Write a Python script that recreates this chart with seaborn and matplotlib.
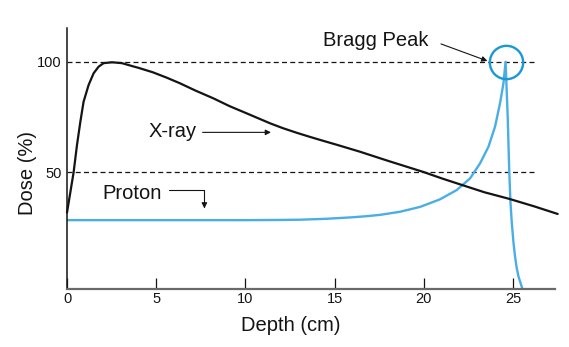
import matplotlib
matplotlib.use("Agg")
import matplotlib.pyplot as plt
import seaborn as sns
import numpy as np
import pandas as pd

# ---- data ----
xray_depth = [0, 0.37, 0.56, 0.75, 0.93, 1.21, 1.49, 1.77, 2.05, 2.52, 3.08, 3.64,
              4.0, 4.8, 5.6, 6.33, 7.2, 8.2, 9.1, 10.07, 11.38, 12.1, 12.88, 13.6,
              14.18, 15.2, 16.4, 18.0, 19.97, 21.0, 22.1, 23.4, 24.8, 26.2, 27.5]
xray_dose = [31.8, 50.0, 62.4, 73.0, 82.0, 89.5, 94.8, 97.8, 99.4, 99.8, 99.4, 98.1,
             97.3, 95.3, 92.8, 90.3, 87.0, 83.5, 80.0, 76.7, 72.2, 70.0, 67.9, 66.1,
             64.7, 62.3, 59.4, 55.2, 50.2, 47.3, 44.4, 41.0, 38.0, 34.6, 31.2]

proton_depth = [0, 5, 10, 12, 13.06, 14.5, 16.0, 16.8, 17.55, 18.67, 19.79, 20.9,
                21.84, 22.59, 23.15, 23.62, 23.99, 24.27, 24.46, 24.58,
                24.7, 24.78, 24.85, 24.93, 25.02, 25.11, 25.2, 25.3, 25.52]
proton_dose = [28.4, 28.4, 28.4, 28.5, 28.6, 29.0, 29.7, 30.2, 30.8, 32.2, 34.4, 37.8,
               42.0, 47.3, 54.1, 61.6, 70.7, 81.3, 90.3, 100.0,
               75.0, 52.0, 37.0, 27.0, 18.5, 12.0, 7.0, 3.0, -2.6]

x_ticks = [0, 5, 10, 15, 20, 25]
y_ticks = [50, 100]
ref_levels = [100, 50]

BLACK = "#141414"
BLUE = "#4aaee6"
CIRCLE = "#1a98d6"

sns.set_style("white")
plt.rcParams["font.family"] = ["Liberation Sans", "DejaVu Sans"]

fig = plt.figure(figsize=(5.69, 3.47), dpi=100)
ax = fig.add_axes([67 / 569, 1 - 288.7 / 347, (555 - 67) / 569, (288.7 - 28) / 347])

xray_df = pd.DataFrame({"depth": xray_depth, "dose": xray_dose})
proton_df = pd.DataFrame({"depth": proton_depth, "dose": proton_dose})

sns.lineplot(data=proton_df, x="depth", y="dose", estimator=None, sort=False,
             color=BLUE, lw=1.7, ax=ax, solid_joinstyle="round")
sns.lineplot(data=xray_df, x="depth", y="dose", estimator=None, sort=False,
             color=BLACK, lw=1.6, ax=ax, clip_on=False, solid_joinstyle="round")

ax.hlines(ref_levels, 0, 26.2, colors=BLACK, lw=0.9, linestyles=(0, (4, 2.6)), zorder=1)

ax.set_xlim(0, 27.35)
ax.set_ylim(-2.6, 115.3)
ax.set_xticks(x_ticks)
ax.set_xticklabels([str(t) for t in x_ticks])
ax.set_yticks(y_ticks)
ax.set_yticklabels([str(t) for t in y_ticks])
ax.tick_params(axis="x", direction="in", length=8, width=0.9, color=BLACK,
               labelsize=10.5, pad=2.5, labelcolor=BLACK, bottom=True)
ax.tick_params(axis="y", length=0, labelsize=10.5, pad=4, labelcolor=BLACK, left=True)

for s in ["top", "right"]:
    ax.spines[s].set_visible(False)
ax.spines["left"].set_color(BLACK)
ax.spines["left"].set_linewidth(1.1)
ax.spines["bottom"].set_color("#6a6a6a")
ax.spines["bottom"].set_linewidth(1.6)

ax.set_xlabel("Depth (cm)", fontsize=14.5, color=BLACK)
ax.set_ylabel("Dose (%)", fontsize=14.5, color=BLACK)
ax.xaxis.set_label_coords(0.459, -0.105)
ax.yaxis.set_label_coords(-0.061, 0.444)

# Bragg peak marker
ipk = int(np.argmax(proton_dose))
pk_x, pk_y = proton_depth[ipk], proton_dose[ipk]
ax.plot([pk_x], [pk_y], marker="o", ms=24, mfc="none", mec=CIRCLE, mew=1.7,
        clip_on=False, zorder=5)

arrow = dict(arrowstyle="-|>", color=BLACK, lw=0.8, mutation_scale=8,
             shrinkA=0, shrinkB=0)
ax.text(17.3, 109.7, "Bragg Peak", fontsize=14.5, ha="center", va="center", color=BLACK)
ax.annotate("", xy=(23.56, 100.4), xytext=(20.96, 108.1), arrowprops=arrow,
            annotation_clip=False)

ax.text(5.9, 68.3, "X-ray", fontsize=14.5, ha="center", va="center", color=BLACK)
ax.annotate("", xy=(11.43, 68.1), xytext=(7.6, 68.1), arrowprops=arrow)

ax.text(3.66, 40.5, "Proton", fontsize=14.5, ha="center", va="center", color=BLACK)
ax.annotate("", xy=(7.70, 33.7), xytext=(5.73, 42.0),
            arrowprops=dict(arrow, connectionstyle="angle,angleA=0,angleB=90,rad=0"))

fig.savefig("out.png", dpi=100)
